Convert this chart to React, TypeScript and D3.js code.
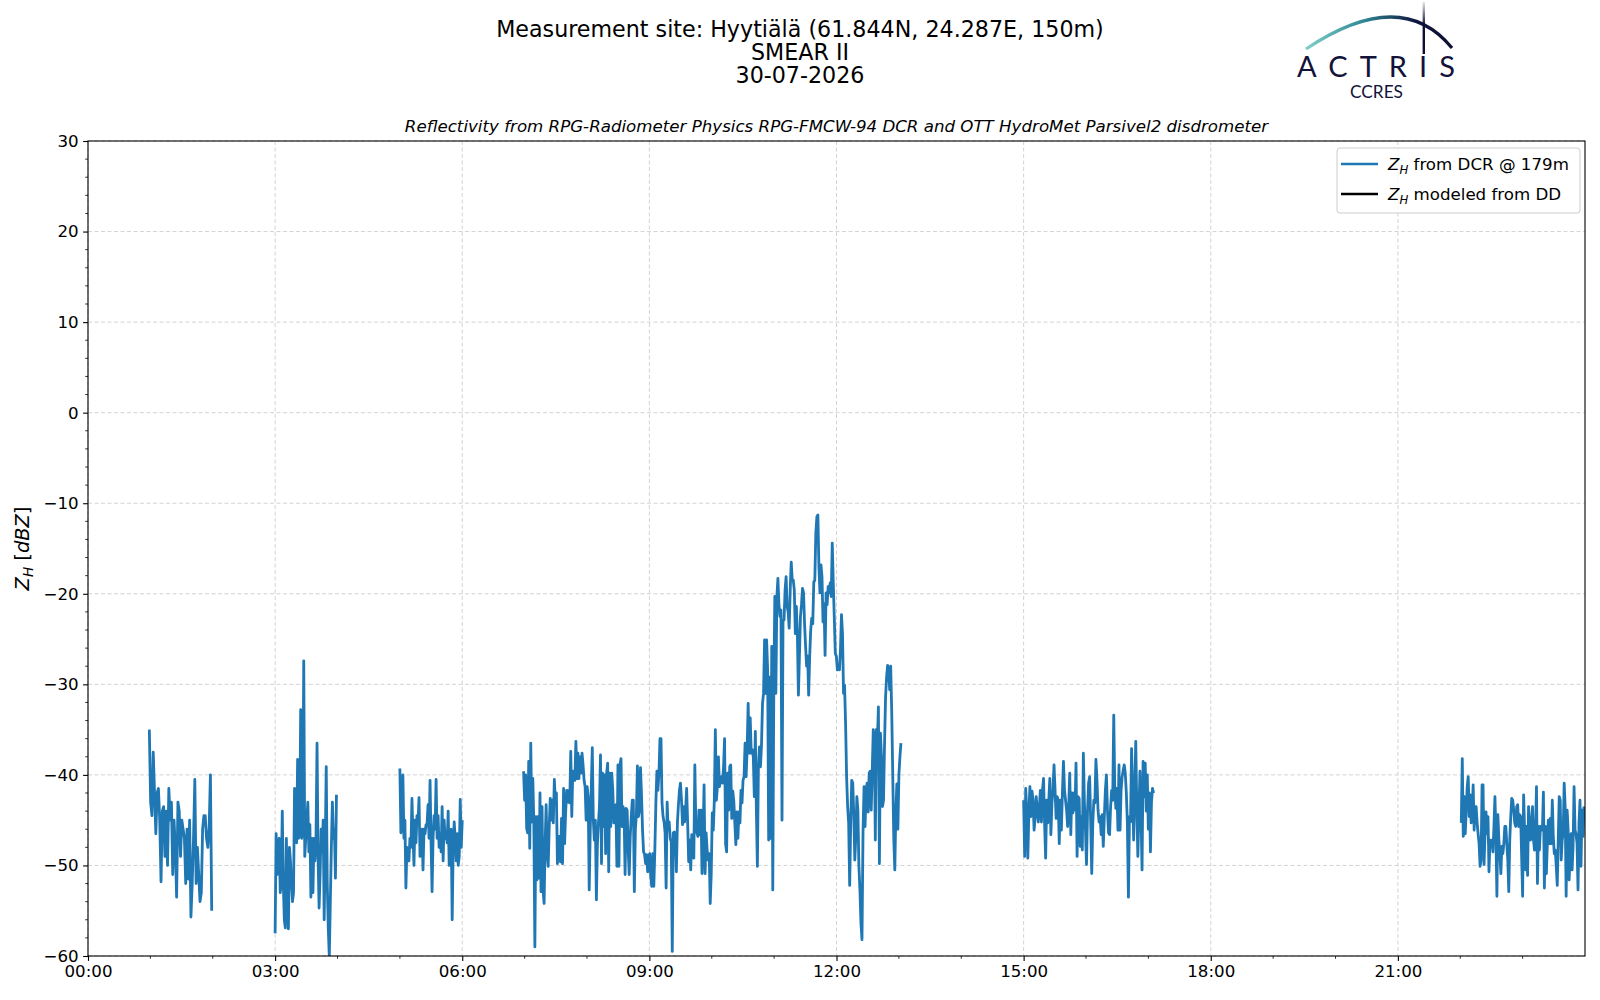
import React, { useEffect, useRef } from 'react';
import * as d3 from 'd3';

// Z_H from DCR @ 179m, ~1 min samples
const seg0100 = [-35.0, -43, -44.5, -37.5, -42, -46.5, -42, -41.5, -45, -51.8, -44, -43.5, -49, -44, -50, -41.5, -45, -43, -51, -45, -48, -53.5, -43, -44, -49, -45, -46, -47, -52, -46, -51.5, -45, -55.7, -52, -47, -40.5, -52, -48, -51, -54, -53, -46, -44.5, -44.5, -47, -48, -46, -40, -55];
const seg0300 = [-57.5, -46.5, -51, -48, -47, -53, -52, -44, -52, -56, -56.9, -47, -54, -57, -48, -49.5, -52, -54, -53, -41.5, -47, -47.5, -38.3, -47, -46.5, -32.8, -47, -46, -27.4, -49, -47, -45, -43, -48.5, -45.5, -53.5, -47, -53, -47, -49.5, -47, -36.5, -49, -54.7, -51, -46, -48.5, -45, -56, -48, -39.1, -52, -57, -60, -54, -48, -43, -47, -46, -51.4, -42.2];
const seg0500 = [-39.3, -46.4, -45, -40, -47, -45, -52.5, -48, -48.5, -49.5, -47, -48, -42.6, -46.5, -50, -45, -47.5, -44.5, -45.5, -42.5, -49, -47, -46, -50.5, -46, -46.5, -45.5, -45.5, -43.3, -47, -40.6, -47.5, -52.9, -47, -44.5, -46, -40.5, -47, -44.5, -48, -46.5, -48.5, -43.5, -49.5, -45, -47, -46.5, -47.5, -44, -50, -47, -46, -56, -48, -45.2, -47, -49.5, -46.5, -50, -49, -42.7, -48, -45];
const seg0700 = [
  -39.6, -42.8, -40.0, -45.9, -46.4, -38.5, -48.1, -36.5, -45.2, -40.4, -45.3, -59, -44.6, -51.6, -44.6, -51.4, -42.0, -52.9, -43.5, -52.7,
  -54.2, -47.6, -43.3, -48.7, -50.1, -45.7, -42.6, -45.0, -42.8, -45.3, -40.5, -43.1, -42.0, -49.8, -46.8, -46.8, -49.6, -44.8, -49.8, -41.5,
  -47.6, -44.2, -41.7, -43.0, -41.7, -43.1, -37.4, -44.6, -39.6, -40.0, -40.6, -36.3, -40.4, -37.6, -40.4, -38.0, -39.8, -37.6, -38.9, -40.6,
  -41.3, -45.0, -41.3, -42.4, -52.7, -46.1, -41.5, -37.0, -45.0, -47.2, -45.0, -53.8, -47.6, -45.3, -43.5, -37.8, -49.8, -39.8, -45.7, -40.0,
  -48.7, -39.8, -38.7, -50.7, -39.8, -45.7, -39.8, -41.7, -45.3, -43.5, -43.3, -50.1, -38.9, -50.1, -38.9, -38.2, -45.7, -43.5, -44.2, -51.0,
  -43.7, -43.9, -48.3, -51.0, -46.8, -44.6, -42.8, -42.8, -52.9, -46.1, -44.4, -39.0, -44.6, -43.9, -39.2, -42.2, -46.1, -48.5, -48.8, -49.8,
  -48.8, -50.7, -49.0, -48.7, -51.2, -52.3, -48.7, -52.3, -48.3, -43.1, -39.6, -41.7, -39.8, -36.0, -36.0, -43.1, -44.6, -45.2, -46.4, -52.5,
  -43.0, -46.1, -45.2, -47.0, -47.4, -59.5, -46.4, -46.3, -46.4, -50.7, -45.3, -43.3, -41.7, -40.9, -42.8, -45.5, -43.5, -45.2, -43.9, -41.5,
  -45.3, -49.6, -47.2, -50.5, -46.6, -46.8, -49.2, -38.9, -45.7, -46.4,
  -46.8, -43.9, -46.6, -43.9, -50.9, -46.8, -41.1, -50.9, -46.4, -48.3, -49.4, -48.7, -54.2, -50.9, -44.2, -46.1, -42.8, -35.0, -42.8, -41.3,
  -38.0, -41.3, -40.6, -40.2, -40.9, -39.1, -36.0, -47.6, -48.5, -39.8, -43.9, -39.1, -38.9, -44.8, -41.8, -42.9, -45.3, -47.7, -44.1, -47.0,
  -44.1, -45.3, -41.7, -43.1, -40.6, -40.2, -36.5, -40.2, -37.2, -32.1, -37.6, -33.7, -37.6, -37.2, -38.0, -42.4, -35.2, -43.9, -50.1, -39.1,
  -36.9, -39.1, -36.7, -32.1, -31.0, -25.1, -31.0, -25.1, -28.4, -47.2, -29.2, -47.0, -25.8, -52.7, -30.6, -20.3, -31.0, -20.3, -18.3, -21.1,
  -22.5, -21.8, -45.0, -22.9, -22.9, -19.6, -18.1, -21.4, -22.0, -23.8, -19.6, -16.5, -18.5, -18.5, -19.6, -24.4, -21.4, -24.4, -31.2, -26.9,
  -22.5, -21.2, -19.4, -19.9, -23.3, -25.8, -28.0, -26.9, -31.2, -26.9, -24.0, -22.7, -23.3, -18.7, -18.5, -13.3, -11.5, -11.3, -17.0, -19.9,
  -16.8, -18.1, -23.1, -21.1, -26.8, -19.9, -21.2, -19.2, -19.9, -18.8, -20.3, -14.4, -18.8, -22.7, -26.6, -26.9, -28.4, -28.2, -28.4, -26.2,
  -22.3, -24.4, -31.0, -30.1, -34.3, -40.2, -43.5, -45.3, -52.2, -45.3, -40.6, -40.9, -44.4, -49.4, -46.8, -42.4, -43.9, -50.1, -52.7, -56.4,
  -58.2, -46.4, -41.3, -45.7, -41.7, -40.9, -44.1, -39.8, -39.6, -43.9, -39.5, -35.0, -36.1, -47.2, -35.0, -36.5, -32.5, -49.8, -35.4, -38.0,
  -43.5, -42.8, -36.5, -31.4, -29.2, -27.9, -28.4, -30.6, -28, -33, -40, -47, -50.5, -44, -41, -46, -40, -38, -36.5
];
const seg1500 = [
  -42.8, -49.0, -41.5, -43.9, -49.2, -44.2, -41.3, -44.6, -41.8, -42.8, -46.1, -44.6, -42.4, -43.9, -45.2, -43.5, -41.7, -45.2, -41.7, -40.4,
  -45.3, -49.2, -42.8, -45.3, -42.8, -40.4, -46.6, -43.1, -41.7, -38.9, -41.7, -44.8, -42.4, -42.8, -47.6, -42.8, -46.1, -42.0, -38.5, -41.7,
  -42.8, -43.9, -45.7, -43.5, -39.8, -46.6, -42.0, -44.2, -42.0, -43.9, -38.7, -49.0, -42.4, -42.6, -47.9, -44.6, -48.3, -37.6, -43.1, -46.1,
  -49.9, -43.9, -40.9, -40.2, -45.3, -50.9, -45.3, -42.8, -43.1, -38.3, -40.6, -43.9, -45.2, -44.6, -46.6, -44.4, -47.9, -44.6, -41.7, -40.0,
  -43.9, -46.4, -46.6, -43.5, -41.7, -42.8, -33.4, -41.7, -43.7, -41.5, -46.1, -38.9, -46.1, -41.7, -40.2, -39.5, -38.9, -39.8, -42.0, -45.3,
  -53.5, -44.6, -45.2, -37.1, -41.7, -47.2, -41.7, -36.3, -43.7, -49.0, -44.2, -39.6, -44.2, -50.5, -38.5, -42.4, -38.7, -44, -40, -46,
  -42, -48.5, -43, -41.5, -42
];
const seg2200 = [
  -45.3, -38.2, -46.8, -42.4, -46.5, -43.9, -41.3, -40.2, -44.6, -42.2, -45.3, -44.2, -41.1, -46.1, -43.5, -43.5, -45.3, -46.5, -47.6, -50.1,
  -49.4, -41.1, -41.1, -49.9, -46.5, -44.1, -46.5, -44.6, -50.7, -47.2, -47.9, -47.2, -48.5, -45.7, -42.4, -46.5, -53.4, -44.4, -47.2, -48.7,
  -50.9, -47.9, -48.7, -47.6, -45.7, -45.7, -47.6, -49.4, -52.9, -47.2, -44.6, -42.6, -42.8, -43.9, -45.3, -45.7, -43.5, -43.3, -45.7, -44.4,
  -44.6, -49.0, -53.4, -42.2, -46.1, -50.5, -45.7, -51.1, -43.5, -45.0, -47.2, -46.5, -43.5, -47.2, -48.3, -46.5, -41.3, -52.0, -45.7, -48.3,
  -45.7, -45.7, -46.1, -41.9, -52.5, -45.7, -50.9, -47.6, -45.0, -47.6, -44.8, -47.6, -42.8, -46.8, -48.7, -48.3, -50.1, -52.2, -47.2, -42.4,
  -42.8, -49.4, -47.2, -46.5, -40.9, -43.5, -53.4, -43.9, -46.1, -51.6, -49.0, -46.5, -50.5, -47.9, -41.3, -46.1, -46.5, -47.6, -52.7, -45.3,
  -42.8, -50.1, -43.9, -46.8, -43.5
];

// time span (HH:MM) covered by each block of samples
const segStarts = ['00:59', '03:00', '05:00', '06:59', '15:00', '22:01'];
const segEnds = ['01:59', '03:59', '06:00', '13:02', '17:05', '23:59'];
const segValues = [seg0100, seg0300, seg0500, seg0700, seg1500, seg2200];

const yTicks = [-60, -50, -40, -30, -20, -10, 0, 10, 20, 30];
const titleLines = ['Measurement site: Hyytiälä (61.844N, 24.287E, 150m)', 'SMEAR II', '30-07-2026'];
const subtitle = 'Reflectivity from RPG-Radiometer Physics RPG-FMCW-94 DCR and OTT HydroMet Parsivel2 disdrometer';
const legendLabels = [' from DCR @ 179m', ' modeled from DD'];
const legendColors = ['#1f77b4', '#000000'];

const W = 1600;
const H = 1000;
const FONT = 'DejaVu Sans, sans-serif';

const day = new Date(Date.UTC(2026, 6, 30));
const at = (hhmm: string) => {
  const [h, m] = hhmm.split(':').map(Number);
  return new Date(day.getTime() + (h * 60 + m) * 60000);
};

export default function App() {
  const svgRef = useRef<SVGSVGElement>(null);

  useEffect(() => {
    if (!svgRef.current) return;
    const svg = d3.select(svgRef.current);
    svg.selectAll('*').remove();

    const margin = { top: 141, right: 15, bottom: 44, left: 88 };
    const innerW = W - margin.left - margin.right;
    const innerH = H - margin.top - margin.bottom;

    const x = d3.scaleUtc()
      .domain([day, d3.utcDay.offset(day, 1)])
      .range([0, innerW]);
    const y = d3.scaleLinear().domain([-60, 30]).range([innerH, 0]);

    const defs = svg.append('defs');
    defs.append('clipPath').attr('id', 'plot-clip')
      .append('rect').attr('width', innerW).attr('height', innerH);

    const arcGrad = defs.append('linearGradient').attr('id', 'arc-grad')
      .attr('x1', '0%').attr('x2', '100%').attr('y1', '0%').attr('y2', '0%');
    arcGrad.append('stop').attr('offset', '0%').attr('stop-color', '#7fd0c8');
    arcGrad.append('stop').attr('offset', '40%').attr('stop-color', '#2f8793');
    arcGrad.append('stop').attr('offset', '75%').attr('stop-color', '#10163f');
    arcGrad.append('stop').attr('offset', '100%').attr('stop-color', '#0e0f33');
    const barGrad = defs.append('linearGradient').attr('id', 'bar-grad')
      .attr('x1', '0%').attr('x2', '0%').attr('y1', '0%').attr('y2', '100%');
    barGrad.append('stop').attr('offset', '0%').attr('stop-color', '#0e0f33').attr('stop-opacity', 0.1);
    barGrad.append('stop').attr('offset', '45%').attr('stop-color', '#0e0f33').attr('stop-opacity', 1);

    // titles
    svg.append('g')
      .selectAll('text')
      .data(titleLines)
      .enter().append('text')
      .attr('x', W / 2)
      .attr('y', (d, i) => 36.5 + i * 23)
      .attr('text-anchor', 'middle')
      .attr('font-family', FONT)
      .attr('font-size', 22.2)
      .text(d => d);

    svg.append('text')
      .attr('x', margin.left + innerW / 2)
      .attr('y', 131.5)
      .attr('text-anchor', 'middle')
      .attr('font-family', FONT)
      .attr('font-style', 'italic')
      .attr('font-size', 16.67)
      .text(subtitle);

    // ACTRIS / CCRES logo
    const logo = svg.append('g');
    logo.append('path')
      .attr('d', 'M1306,49 Q1401,-14.5 1452,48')
      .attr('fill', 'none')
      .attr('stroke', 'url(#arc-grad)')
      .attr('stroke-width', 3.2);
    logo.append('rect')
      .attr('x', 1422.6).attr('y', 2).attr('width', 2.4).attr('height', 52)
      .attr('fill', 'url(#bar-grad)');
    logo.append('text')
      .attr('x', 1297).attr('y', 77)
      .attr('textLength', 158).attr('lengthAdjust', 'spacing')
      .attr('font-family', 'Lato, DejaVu Sans, sans-serif')
      .attr('font-size', 29)
      .attr('fill', '#12123a')
      .text('ACTRIS');
    logo.append('text')
      .attr('x', 1350).attr('y', 98)
      .attr('textLength', 53).attr('lengthAdjust', 'spacingAndGlyphs')
      .attr('font-family', 'Lato, DejaVu Sans, sans-serif')
      .attr('font-size', 17)
      .attr('fill', '#12123a')
      .text('CCRES');

    const g = svg.append('g').attr('transform', `translate(${margin.left},${margin.top})`);

    // grid
    const hourTicks = d3.utcHour.every(3)!.range(day, d3.utcDay.offset(day, 1));
    g.append('g').selectAll('line').data(hourTicks).enter().append('line')
      .attr('x1', d => x(d)).attr('x2', d => x(d))
      .attr('y1', 0).attr('y2', innerH)
      .attr('stroke', '#d3d3d3').attr('stroke-width', 1).attr('stroke-dasharray', '4,2.5');
    g.append('g').selectAll('line').data(yTicks).enter().append('line')
      .attr('x1', 0).attr('x2', innerW)
      .attr('y1', d => y(d)).attr('y2', d => y(d))
      .attr('stroke', '#d3d3d3').attr('stroke-width', 1).attr('stroke-dasharray', '4,2.5');

    // data line
    const points: { t: Date; v: number | null }[] = [];
    segValues.forEach((vals, i) => {
      const t0 = at(segStarts[i]).getTime();
      const t1 = at(segEnds[i]).getTime();
      const step = (t1 - t0) / (vals.length - 1);
      vals.forEach((v, j) => points.push({ t: new Date(t0 + j * step), v }));
      points.push({ t: new Date(t1 + step), v: null });
    });
    const line = d3.line<{ t: Date; v: number | null }>()
      .defined(d => d.v !== null)
      .x(d => x(d.t))
      .y(d => y(d.v as number));
    g.append('path')
      .datum(points)
      .attr('clip-path', 'url(#plot-clip)')
      .attr('fill', 'none')
      .attr('stroke', '#1f77b4')
      .attr('stroke-width', 2.8)
      .attr('stroke-linejoin', 'round')
      .attr('d', line);

    // axes
    const xAxis = g.append('g')
      .attr('transform', `translate(0,${innerH})`)
      .call(d3.axisBottom(x)
        .tickValues(hourTicks)
        .tickFormat(d3.utcFormat('%H:%M') as any)
        .tickSize(4.9).tickPadding(4.5));
    xAxis.select('.domain').remove();
    xAxis.selectAll('text').attr('font-family', FONT).attr('font-size', 16.67).attr('fill', '#000');
    xAxis.selectAll('line').attr('stroke', '#000').attr('stroke-width', 1.1);

    const xMinor = d3.utcHour.every(1)!.range(day, d3.utcDay.offset(day, 1))
      .filter(d => d.getUTCHours() % 3 !== 0);
    g.append('g').selectAll('line').data(xMinor).enter().append('line')
      .attr('x1', d => x(d)).attr('x2', d => x(d))
      .attr('y1', innerH).attr('y2', innerH + 2.8)
      .attr('stroke', '#000').attr('stroke-width', 0.8);

    const yAxis = g.append('g')
      .call(d3.axisLeft(y).tickValues(yTicks).tickSize(4.9).tickPadding(4.5));
    yAxis.select('.domain').remove();
    yAxis.selectAll('text').attr('font-family', FONT).attr('font-size', 16.67).attr('fill', '#000');
    yAxis.selectAll('line').attr('stroke', '#000').attr('stroke-width', 1.1);

    const yMinor = d3.range(-60, 31, 2).filter(v => v % 10 !== 0);
    g.append('g').selectAll('line').data(yMinor).enter().append('line')
      .attr('x1', -2.8).attr('x2', 0)
      .attr('y1', d => y(d)).attr('y2', d => y(d))
      .attr('stroke', '#000').attr('stroke-width', 0.8);

    // frame
    g.append('rect')
      .attr('width', innerW).attr('height', innerH)
      .attr('fill', 'none').attr('stroke', '#000').attr('stroke-width', 1.1);

    // y label
    const yl = svg.append('text')
      .attr('transform', `translate(29,${margin.top + innerH / 2}) rotate(-90)`)
      .attr('text-anchor', 'middle')
      .attr('font-family', FONT)
      .attr('font-size', 19.4);
    yl.append('tspan').attr('font-style', 'italic').text('Z');
    yl.append('tspan').attr('font-style', 'italic').attr('font-size', 13.6).attr('dy', 4).text('H');
    yl.append('tspan').attr('dy', -4).text(' [');
    yl.append('tspan').attr('font-style', 'italic').text('dBZ');
    yl.append('tspan').text(']');

    // legend
    const lg = svg.append('g');
    lg.append('rect')
      .attr('x', 1337).attr('y', 148).attr('width', 243).attr('height', 65)
      .attr('rx', 3)
      .attr('fill', '#fff').attr('fill-opacity', 0.8)
      .attr('stroke', '#cccccc').attr('stroke-width', 1);
    legendLabels.forEach((label, i) => {
      const cy = 164 + i * 30;
      lg.append('line')
        .attr('x1', 1341).attr('x2', 1378)
        .attr('y1', cy).attr('y2', cy)
        .attr('stroke', legendColors[i]).attr('stroke-width', 2.6);
      const t = lg.append('text')
        .attr('x', 1388).attr('y', cy + 6)
        .attr('font-family', FONT)
        .attr('font-size', 16.67);
      t.append('tspan').attr('font-style', 'italic').text('Z');
      t.append('tspan').attr('font-style', 'italic').attr('font-size', 11.7).attr('dy', 3.5).text('H');
      t.append('tspan').attr('dy', -3.5).text(label);
    });
  }, []);

  return (
    <div>
      <style>{'body{margin:0}'}</style>
      <svg ref={svgRef} width={W} height={H} style={{ display: 'block', background: '#fff' }} />
    </div>
  );
}
